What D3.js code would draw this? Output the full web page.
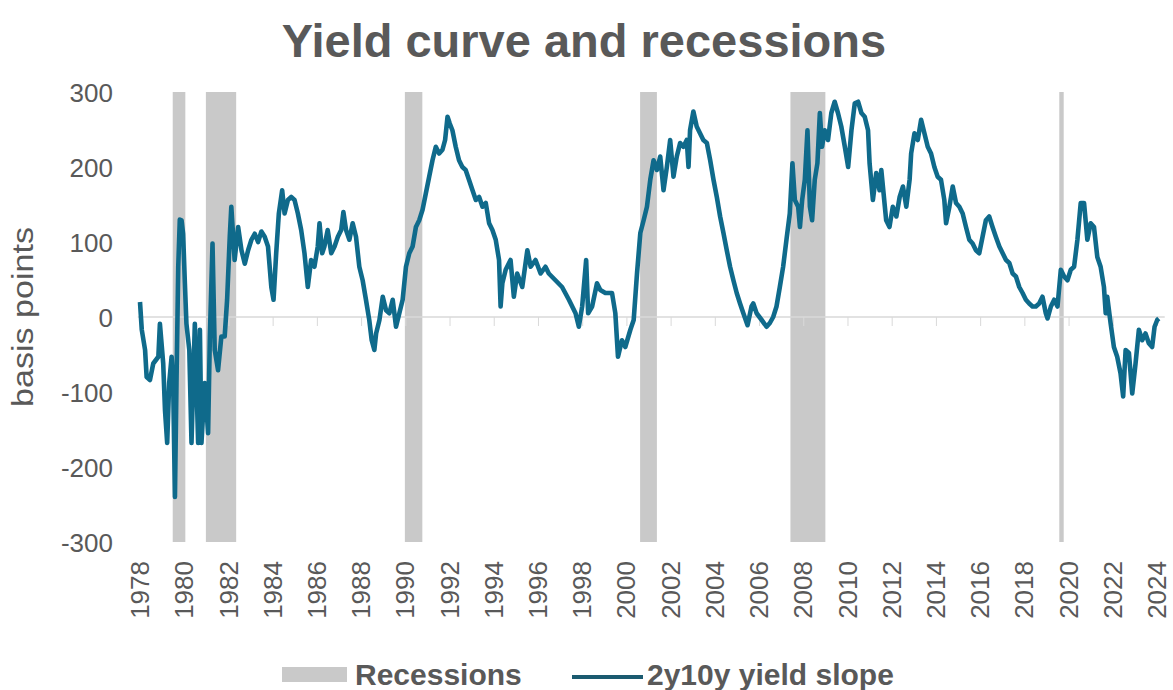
<!DOCTYPE html>
<html>
<head>
<meta charset="utf-8">
<script src="https://cdn.jsdelivr.net/npm/d3@7"></script>
<style>
  html, body { margin: 0; padding: 0; background: #ffffff; }
  svg { display: block; font-family: "Liberation Sans", Arial, sans-serif; }
</style>
</head>
<body>
<svg id="chart" width="1173" height="690"></svg>
<script>
// ---------- data ----------
const chartTitle = "Yield curve and recessions";
const yAxisLabel = "basis points";
const seriesName = "2y10y yield slope";
const recessionName = "Recessions";

const tickYears = [1978,1980,1982,1984,1986,1988,1990,1992,1994,1996,1998,2000,2002,2004,2006,2008,2010,2012,2014,2016,2018,2020,2022,2024];
const yTicks = [-300,-200,-100,0,100,200,300];

const recessionStart = [1979.98, 1981.48, 1990.48, 2001.12, 2007.92, 2020.08];
const recessionEnd   = [1980.55, 1982.85, 1991.27, 2001.88, 2009.50, 2020.28];

const slopeYears = [
1978.50,1978.58,1978.73,1978.80,1978.95,1979.10,1979.33,1979.40,1979.55,1979.63,1979.73,1979.82,1979.93,1980.00,1980.08,1980.15,1980.23,1980.30,1980.38,1980.45,1980.53,1980.60,1980.73,1980.83,1980.98,1981.13,1981.21,1981.28,1981.43,1981.58,1981.66,1981.78,1981.88,1982.03,1982.18,1982.33,1982.44,1982.56,1982.63,1982.78,1982.94,1983.09,1983.24,1983.39,1983.54,1983.69,1983.84,
1983.99,1984.14,1984.29,1984.44,1984.54,1984.66,1984.78,1984.93,1985.04,1985.19,1985.34,1985.49,1985.64,1985.79,1985.94,1986.09,1986.24,1986.39,1986.54,1986.62,1986.74,1986.84,1986.99,1987.15,1987.30,1987.45,1987.60,1987.70,1987.82,1987.97,1988.12,1988.27,1988.42,1988.57,1988.72,1988.87,1988.98,1989.10,1989.18,1989.33,1989.48,1989.63,1989.78,1989.93,1990.08,1990.23,1990.38,1990.53,1990.68,1990.83,1990.98,1991.13,1991.28,1991.43,1991.58,1991.73,1991.88,1992.03,1992.18,1992.30,1992.41,1992.51,1992.63,1992.78,1992.93,1993.08,1993.23,1993.38,1993.54,1993.69,1993.84,1993.99,1994.14,1994.29,1994.44,1994.59,1994.74,1994.81,
1994.89,1995.04,1995.26,1995.41,1995.56,1995.79,1996.02,1996.17,1996.39,1996.62,1996.84,1996.99,1997.29,1997.59,1997.90,1998.20,1998.35,1998.50,1998.68,1998.77,1998.95,1999.17,1999.32,1999.55,1999.85,2000.00,2000.12,2000.30,2000.45,2000.68,2000.83,2000.98,2001.13,2001.28,2001.43,2001.58,2001.73,2001.88,2002.03,2002.18,2002.33,2002.48,2002.63,2002.78,2002.93,2003.08,2003.23,2003.31,2003.38,2003.53,2003.68,2003.83,2003.98,2004.14,2004.29,2004.44,2004.59,2004.74,2004.89,2005.04,2005.19,2005.34,2005.49,2005.64,2005.79,2005.98,2006.16,2006.24,2006.39,2006.62,2006.84,2006.99,2007.14,2007.29,2007.44,2007.59,2007.74,2007.89,2008.01,2008.12,2008.27,2008.35,2008.45,2008.57,2008.69,2008.80,2008.90,2009.02,2009.14,2009.25,2009.35,2009.47,2009.62,2009.77,2009.92,2010.07,2010.22,2010.38,2010.53,2010.68,2010.83,2010.98,2011.13,2011.28,2011.43,2011.50,2011.65,2011.80,2011.95,
2012.03,2012.25,2012.40,2012.55,2012.71,2012.86,2013.01,2013.16,2013.31,2013.38,2013.53,2013.68,2013.83,2013.98,2014.13,2014.28,2014.43,2014.58,2014.73,2014.88,2014.96,2015.11,2015.26,2015.41,2015.56,2015.71,2015.86,2016.01,2016.16,2016.31,2016.46,2016.61,2016.76,2016.91,2017.06,2017.21,2017.37,2017.52,2017.67,2017.82,2017.97,2018.12,2018.27,2018.42,2018.57,2018.72,2018.87,2019.02,2019.17,2019.32,2019.47,2019.55,2019.70,2019.85,2020.00,2020.15,2020.30,2020.45,2020.60,2020.75,2020.90,2021.05,2021.20,2021.35,2021.50,2021.65,2021.80,2021.95,2022.10,2022.18,2022.25,2022.40,2022.55,2022.70,2022.85,2022.97,2023.08,2023.23,2023.38,2023.53,2023.68,2023.83,2023.98,2024.13,2024.28,2024.39,2024.51,2024.58
];
const slopeBps = [
20,-17,-44,-80,-84,-62,-53,-9,-62,-124,-168,-88,-53,-88,-240,-88,67,130,129,111,45,-9,-44,-168,-9,-168,-17,-168,-88,-155,-26,98,-44,-71,-26,-26,23,107,147,76,120,89,71,89,103,111,100,
114,107,94,40,23,85,138,169,138,156,160,156,138,116,85,40,76,67,94,125,85,94,116,85,94,107,116,140,116,103,125,107,67,49,23,-4,-31,-44,-22,-4,27,9,5,23,-13,5,23,67,85,94,120,129,143,165,187,209,227,218,223,236,267,258,249,227,209,200,196,183,169,156,160,147,152,125,116,103,76,14,
45,63,76,27,58,40,89,67,76,58,67,58,49,40,23,5,-13,14,76,5,14,45,36,32,32,5,-53,-31,-40,-17,-4,58,112,129,147,183,209,196,214,169,200,236,187,214,232,227,236,200,249,274,254,245,236,232,209,183,160,134,112,89,67,49,32,18,5,-11,14,18,5,-4,-13,-8,0,14,40,67,103,138,205,156,147,120,156,183,249,147,129,183,205,272,227,249,236,272,287,272,254,227,200,249,285,287,272,267,249,205,156,192,169,
196,129,120,147,134,160,174,147,183,218,245,236,263,245,227,218,200,187,183,156,125,147,174,152,147,138,120,103,98,89,85,107,129,134,120,107,94,85,76,72,58,54,40,32,23,18,14,14,18,27,5,-2,14,23,14,63,54,49,63,67,103,152,152,103,125,120,80,67,40,5,27,-8,-40,-53,-75,-106,-44,-48,-102,-62,-17,-31,-22,-35,-40,-13,-4,-2
];

// ---------- chart ----------
const textColor = "#595959";
const lineColor = "#0f6a8b";
const recColor = "#c9c9c9";
const fontFam = "'Liberation Sans', Arial, sans-serif";

const svg = d3.select("#chart");

const x = d3.scaleLinear().domain([1978.5, 2024.5]).range([140, 1157]);
const y = d3.scaleLinear().domain([-300, 300]).range([542, 92]);

// recessions
svg.append("g").selectAll("rect")
  .data(recessionStart.map((s, i) => ({ s, e: recessionEnd[i] })))
  .join("rect")
  .attr("x", d => x(d.s))
  .attr("width", d => Math.max(2.5, x(d.e) - x(d.s)))
  .attr("y", y(300))
  .attr("height", y(-300) - y(300))
  .attr("fill", recColor);

// zero line with ticks
const xTickAxis = d3.axisBottom(x)
  .tickValues(tickYears.map(t => t + 0.5))
  .tickSize(9)
  .tickFormat("");
const gz = svg.append("g").attr("transform", `translate(0,${y(0)})`).call(xTickAxis);
gz.select(".domain").attr("d", `M${x(1978.4)},0H${x(2024.85)}`).attr("stroke", "#d9d9d9").attr("stroke-width", 1.5);
gz.selectAll(".tick line").attr("stroke", "#d9d9d9").attr("stroke-width", 1);

// x labels at bottom
const xLabelAxis = d3.axisBottom(x)
  .tickValues(tickYears.map(t => t + 0.5))
  .tickSize(0)
  .tickFormat(d => String(Math.floor(d)));
const gx = svg.append("g").attr("transform", `translate(0,561)`).call(xLabelAxis);
gx.select(".domain").remove();
gx.selectAll("text")
  .attr("fill", textColor)
  .attr("font-size", 26)
  .attr("font-family", fontFam)
  .attr("text-anchor", "end")
  .attr("transform", "rotate(-90)")
  .attr("x", 0)
  .attr("y", 0)
  .attr("dx", 0)
  .attr("dy", "0.33em");

// y axis
const yAxis = d3.axisLeft(y).tickValues(yTicks).tickSize(0).tickFormat(d => String(d));
const gy = svg.append("g").attr("transform", `translate(113,0)`).call(yAxis);
gy.select(".domain").remove();
gy.selectAll("text")
  .attr("fill", textColor)
  .attr("font-size", 26)
  .attr("font-family", fontFam)
  .attr("x", 0)
  .attr("dy", "0.36em");

// line
const line = d3.line()
  .x((d, i) => x(slopeYears[i]))
  .y(d => y(d));
svg.append("path")
  .datum(slopeBps)
  .attr("d", line)
  .attr("fill", "none")
  .attr("stroke", lineColor)
  .attr("stroke-width", 4.6)
  .attr("stroke-linejoin", "round");

// title
svg.append("text")
  .attr("x", 584).attr("y", 57)
  .attr("text-anchor", "middle")
  .attr("font-size", 47)
  .attr("font-weight", "bold")
  .attr("fill", textColor)
  .text(chartTitle);

// y label
svg.append("text")
  .attr("transform", `translate(33,${y(0)}) rotate(-90)`)
  .attr("text-anchor", "middle")
  .attr("font-size", 29)
  .attr("textLength", 180)
  .attr("lengthAdjust", "spacingAndGlyphs")
  .attr("fill", textColor)
  .text(yAxisLabel);

// legend
const lg = svg.append("g");
lg.append("rect").attr("x", 282).attr("y", 667).attr("width", 65).attr("height", 15).attr("fill", recColor);
lg.append("text").attr("x", 355).attr("y", 685)
  .attr("font-size", 30).attr("font-weight", "bold").attr("fill", textColor).text(recessionName);
lg.append("line").attr("x1", 572).attr("x2", 643).attr("y1", 677).attr("y2", 677)
  .attr("stroke", "#1b5b70").attr("stroke-width", 4);
lg.append("text").attr("x", 647).attr("y", 685)
  .attr("font-size", 30).attr("font-weight", "bold").attr("fill", textColor).text(seriesName);
</script>
</body>
</html>
